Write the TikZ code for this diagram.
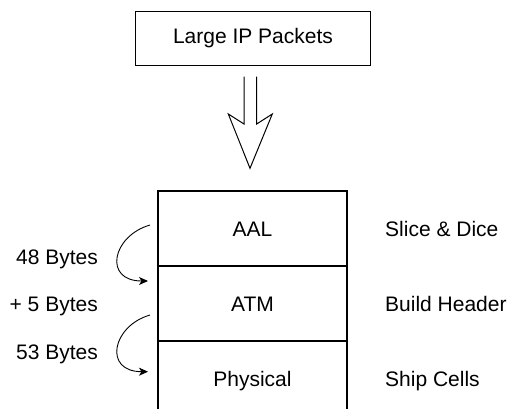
\documentclass[tikz,border=0pt]{standalone}
\usepackage{fontspec}
\setmainfont{Liberation Sans}
\usetikzlibrary{arrows.meta}
\begin{document}
\begin{tikzpicture}[x=1pt,y=-1pt,
  lbl/.style={font=\fontsize{21}{25}\selectfont, inner sep=0pt},
  outline/.style={line width=1.1pt, draw=black},
  curvearrow/.style={line width=0.9pt, -{Stealth[length=9pt,width=8pt,inset=2.5pt]}},
]
\useasboundingbox (0,0) rectangle (509,409);
% top box
\node[lbl, outline, minimum width=234.6pt, minimum height=53.6pt, text height=15pt, text depth=4pt] (ip) at (253,38.5) {Large IP Packets};
% big hollow arrow
\draw[line width=1pt, line join=miter] (244,76.7) -- (244,124) -- (228.3,114) -- (250,168.3) -- (272.3,114) -- (256.7,124) -- (256.7,76.7);
% stack outline
\coordinate (stl) at (158,191);
\coordinate (str) at (347,191);
\coordinate (sbl) at (158,409);
\coordinate (sbr) at (347,409);
\draw[outline] (sbl) -- (stl) -- (str) -- (sbr);
\draw[outline] (158,266) -- (347,266);
\draw[outline] (158,341) -- (347,341);
% layer texts
\node[lbl, anchor=base] (aal) at (252.5,236.3) {AAL};
\node[lbl, anchor=base] (atm) at (252.5,311.7) {ATM};
\node[lbl, anchor=base] (phy) at (252.5,386.7) {Physical};
% right texts
\node[lbl, anchor=base west] (slice) at (385,236.5) {Slice \& Dice};
\node[lbl, anchor=base west] (build) at (385,311.7) {Build Header};
\node[lbl, anchor=base west] (ship) at (385,386.7) {Ship Cells};
% left texts
\node[lbl, anchor=base east] (b48) at (98,264) {48 Bytes};
\node[lbl, anchor=base east] (b5) at (98,311.7) {+ 5 Bytes};
\node[lbl, anchor=base east] (b53) at (98,359.3) {53 Bytes};
% curved arrows
\coordinate (c1s) at (150,225);
\coordinate (c1e) at (148,281);
\coordinate (c2s) at (150,315);
\coordinate (c2e) at (148,371.7);
\draw[curvearrow] (c1s) .. controls (112,236) and (103,281) .. (c1e);
\draw[curvearrow] (c2s) .. controls (112,326) and (103,371.7) .. (c2e);
\end{tikzpicture}
\end{document}
